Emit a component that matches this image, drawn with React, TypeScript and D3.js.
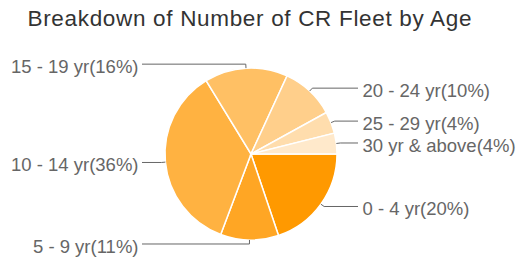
import React from "react";
import * as d3 from "d3";

const categories = [
  "0 - 4 yr",
  "5 - 9 yr",
  "10 - 14 yr",
  "15 - 19 yr",
  "20 - 24 yr",
  "25 - 29 yr",
  "30 yr & above",
];
const values = [19.8, 10.9, 35.5, 15.6, 10.1, 4.1, 3.9];
const colors = ["#ff9900", "#ffa624", "#ffb241", "#ffc064", "#ffcf8b", "#ffddad", "#ffe9cb"];
const title = "Breakdown of Number of CR Fleet by Age";

const W = 521;
const H = 262;
const cx = 251;
const cy = 154;
const R = 86;
const font = "Arial, 'Liberation Sans', Helvetica, sans-serif";

export default function App() {
  const total = d3.sum(values);
  const pie = d3
    .pie<number>()
    .sort(null)
    .startAngle(Math.PI / 2)
    .endAngle(Math.PI / 2 + 2 * Math.PI)(values);
  const arc = d3.arc<d3.PieArcDatum<number>>().innerRadius(0).outerRadius(R);

  return (
    <svg
      width={W}
      height={H}
      style={{ position: "absolute", left: 0, top: 0, background: "#fff" }}
    >
      <text
        x={27.5}
        y={25.7}
        fontFamily={font}
        fontSize={22.5}
        fill="#333"
        textLength={444}
        lengthAdjust="spacing"
      >
        {title}
      </text>
      <g transform={`translate(${cx},${cy})`}>
        {pie.map((d, i) => (
          <path key={i} d={arc(d) || ""} fill={colors[i]} stroke="#fff" strokeWidth={1.5} />
        ))}
      </g>
      {pie.map((d, i) => {
        const mid = (d.startAngle + d.endAngle) / 2;
        const sx = cx + R * Math.sin(mid);
        const sy = cy - R * Math.cos(mid);
        const ex = cx + (R + 4) * Math.sin(mid);
        const ey = cy - (R + 4) * Math.cos(mid);
        const right = Math.sin(mid) > 0;
        const lx = right ? 358 : 142;
        const tx = right ? 362.5 : 138.5;
        const pct = Math.round((values[i] / total) * 100);
        return (
          <g key={"l" + i}>
            <polyline
              points={`${sx},${sy} ${ex},${ey} ${lx},${ey}`}
              fill="none"
              stroke="#666"
              strokeWidth={1}
            />
            <text
              x={tx}
              y={ey + 8.8}
              textAnchor={right ? "start" : "end"}
              fontFamily={font}
              fontSize={18.5}
              fill="#666"
            >
              {`${categories[i]}(${pct}%)`}
            </text>
          </g>
        );
      })}
    </svg>
  );
}
